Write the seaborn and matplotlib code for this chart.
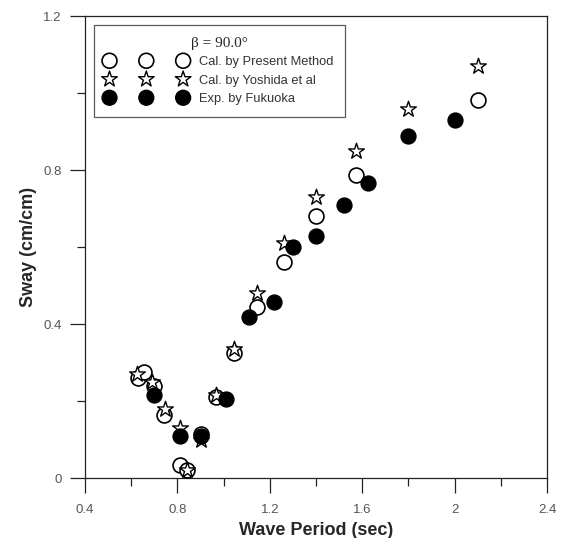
import matplotlib
matplotlib.use("Agg")
import matplotlib.pyplot as plt
import pandas as pd
import numpy as np
import seaborn as sns
from matplotlib.ticker import MultipleLocator

# Cal. by Present Method (open circles)
present_x = [0.63, 0.655, 0.70, 0.74, 0.81, 0.84, 0.90, 0.965, 1.045, 1.145, 1.26, 1.40, 1.575, 2.10]
present_y = [0.26, 0.275, 0.24, 0.165, 0.035, 0.022, 0.115, 0.21, 0.325, 0.445, 0.56, 0.68, 0.787, 0.983]

# Cal. by Yoshida et al (stars)
yoshida_x = [0.625, 0.69, 0.745, 0.81, 0.84, 0.90, 0.965, 1.045, 1.145, 1.26, 1.40, 1.575, 1.80, 2.10]
yoshida_y = [0.27, 0.25, 0.18, 0.13, 0.02, 0.10, 0.215, 0.335, 0.48, 0.61, 0.73, 0.85, 0.96, 1.07]

# Exp. by Fukuoka (filled circles)
fukuoka_x = [0.70, 0.81, 0.90, 1.01, 1.11, 1.22, 1.30, 1.40, 1.52, 1.625, 1.80, 2.00]
fukuoka_y = [0.215, 0.108, 0.108, 0.205, 0.418, 0.457, 0.60, 0.63, 0.71, 0.766, 0.888, 0.93]

labels = ["Cal. by Present Method", "Cal. by Yoshida et al", "Exp. by Fukuoka"]

sns.set_style("white")
plt.rcParams['font.family'] = ['Liberation Sans', 'DejaVu Sans']

fig = plt.figure(figsize=(5.64, 5.38), dpi=100)
ax = fig.add_axes([0.1507, 0.1115, 0.8193, 0.8585])

df_p = pd.DataFrame({'x': present_x, 'y': present_y})
df_y = pd.DataFrame({'x': yoshida_x, 'y': yoshida_y})
df_f = pd.DataFrame({'x': fukuoka_x, 'y': fukuoka_y})

sns.scatterplot(data=df_p, x='x', y='y', ax=ax, marker='o', s=115,
                facecolor='white', edgecolor='black', linewidth=1.2,
                label=labels[0], zorder=3)
sns.scatterplot(data=df_y, x='x', y='y', ax=ax, marker='*', s=140,
                facecolor='white', edgecolor='black', linewidth=1.0,
                label=labels[1], zorder=4)
sns.scatterplot(data=df_f, x='x', y='y', ax=ax, marker='o', s=115,
                facecolor='black', edgecolor='black', linewidth=1.0,
                label=labels[2], zorder=5)

ax.set_xlim(0.4, 2.4)
ax.set_ylim(0, 1.2)
ax.xaxis.set_minor_locator(MultipleLocator(0.2))
ax.yaxis.set_minor_locator(MultipleLocator(0.2))
ax.set_xticks([0.4, 0.8, 1.2, 1.6, 2.0, 2.4])
ax.set_xticklabels(["0.4", "0.8", "1.2", "1.6", "2", "2.4"])
ax.set_yticks([0, 0.4, 0.8, 1.2])
ax.set_yticklabels(["0", "0.4", "0.8", "1.2"])

ax.tick_params(which='major', direction='out', length=11, width=0.9,
               color='#222222', labelsize=9.5, labelcolor='#555555',
               bottom=True, left=True)
ax.tick_params(axis='x', which='major', pad=8)
ax.tick_params(axis='y', which='major', pad=6)
ax.tick_params(which='minor', direction='out', length=6, width=0.9,
               color='#222222', bottom=True, left=True)

for sp in ax.spines.values():
    sp.set_color('#222222')
    sp.set_linewidth(0.9)

ax.set_xlabel("Wave Period (sec)", fontsize=13, fontweight='bold', labelpad=4)
ax.set_ylabel("Sway (cm/cm)", fontsize=13, fontweight='bold', labelpad=4)

leg = ax.legend(loc='upper left', bbox_to_anchor=(0.0195, 0.9805),
                scatterpoints=3, scatteryoffsets=[0.5], handlelength=6.3,
                fontsize=9.3, frameon=True, fancybox=False, borderpad=0.9,
                labelspacing=0.5, handletextpad=0.9, borderaxespad=0.0,
                title="β = 90.0°",
                title_fontproperties={'family': 'Liberation Serif', 'size': 11})
leg.get_frame().set_edgecolor('#333333')
leg.get_frame().set_linewidth(0.9)
for t in leg.get_texts():
    t.set_color('#333333')

fig.savefig("out.png", dpi=100)
